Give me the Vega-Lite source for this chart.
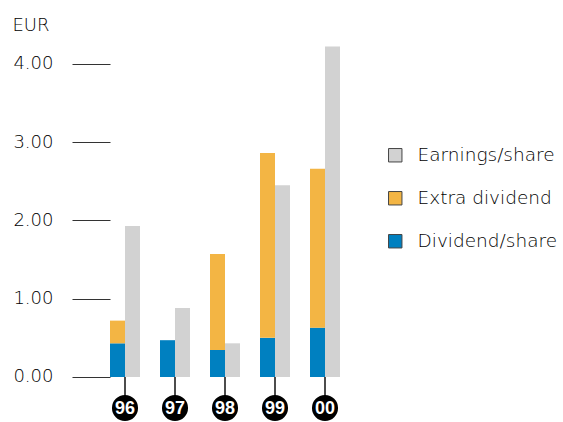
{
  "$schema": "https://vega.github.io/schema/vega-lite/v6.json",
  "autosize": "none",
  "width": 230,
  "height": 402,
  "padding": {"left": 110, "top": 20, "right": 223, "bottom": 0},
  "config": {"view": {"stroke": null}, "font": "DejaVu Sans"},
  "datasets": {
    "bars": [
      {"year": "96", "bar": "A", "series": "Dividend/share", "value": 0.43},
      {"year": "96", "bar": "A", "series": "Extra dividend", "value": 0.29},
      {"year": "96", "bar": "B", "series": "Earnings/share", "value": 1.93},
      {"year": "97", "bar": "A", "series": "Dividend/share", "value": 0.47},
      {"year": "97", "bar": "B", "series": "Earnings/share", "value": 0.88},
      {"year": "98", "bar": "A", "series": "Dividend/share", "value": 0.345},
      {"year": "98", "bar": "A", "series": "Extra dividend", "value": 1.225},
      {"year": "98", "bar": "B", "series": "Earnings/share", "value": 0.43},
      {"year": "99", "bar": "A", "series": "Dividend/share", "value": 0.5},
      {"year": "99", "bar": "A", "series": "Extra dividend", "value": 2.36},
      {"year": "99", "bar": "B", "series": "Earnings/share", "value": 2.45},
      {"year": "00", "bar": "A", "series": "Dividend/share", "value": 0.63},
      {"year": "00", "bar": "A", "series": "Extra dividend", "value": 2.03},
      {"year": "00", "bar": "B", "series": "Earnings/share", "value": 4.22}
    ],
    "years": [
      {"year": "96"}, {"year": "97"}, {"year": "98"}, {"year": "99"}, {"year": "00"}
    ]
  },
  "layer": [
    {
      "data": {"name": "bars"},
      "mark": {"type": "bar"},
      "encoding": {
        "x": {"field": "year", "type": "nominal", "sort": ["96", "97", "98", "99", "00"],
              "scale": {"paddingInner": 0.4, "paddingOuter": 0}, "axis": null},
        "xOffset": {"field": "bar", "type": "nominal", "scale": {"paddingInner": 0, "paddingOuter": 0}},
        "y": {"field": "value", "type": "quantitative", "stack": "zero",
              "scale": {"domain": [-0.575, 4.56], "nice": false, "zero": false},
              "axis": {"values": [0, 1, 2, 3, 4], "format": ".2f", "domain": false, "grid": false,
                       "tickSize": 38, "tickColor": "#333", "tickWidth": 1.2, "labelPadding": 19,
                       "labelFontSize": 18, "labelColor": "#000", "labelFont": "DejaVu Sans", "labelFontWeight": 300,
                       "title": "EUR", "titleAngle": 0, "titleAlign": "left", "titleBaseline": "alphabetic",
                       "titleX": -98, "titleY": 10, "titleFontSize": 18, "titleFontWeight": 300,
                       "titleColor": "#000", "titleFont": "DejaVu Sans"}},
        "color": {"field": "series", "type": "nominal",
                  "scale": {"domain": ["Earnings/share", "Extra dividend", "Dividend/share"],
                            "range": ["#d2d2d2", "#f3b544", "#0080c0"]},
                  "legend": {"title": null, "orient": "none", "legendX": 276, "legendY": 126,
                             "symbolType": "square", "symbolSize": 180, "symbolStrokeColor": "#444",
                             "symbolStrokeWidth": 1, "labelFontSize": 18.5, "labelColor": "#000",
                             "labelFont": "DejaVu Sans", "labelFontWeight": 300, "labelOffset": 13, "rowPadding": 24}},
        "order": {"field": "series", "sort": "ascending"}
      }
    },
    {
      "data": {"name": "years"},
      "mark": {"type": "rule", "color": "#111", "strokeWidth": 1.5},
      "encoding": {
        "x": {"field": "year", "type": "nominal", "sort": ["96", "97", "98", "99", "00"]},
        "y": {"datum": 0},
        "y2": {"datum": -0.25}
      }
    },
    {
      "data": {"name": "years"},
      "mark": {"type": "point", "shape": "circle", "filled": true, "color": "#000", "size": 680, "opacity": 1},
      "encoding": {
        "x": {"field": "year", "type": "nominal", "sort": ["96", "97", "98", "99", "00"]},
        "y": {"datum": -0.396}
      }
    },
    {
      "data": {"name": "years"},
      "mark": {"type": "text", "color": "#fff", "fontSize": 18, "fontWeight": "bold", "font": "Liberation Sans",
               "baseline": "middle", "align": "center", "dy": 1},
      "encoding": {
        "x": {"field": "year", "type": "nominal", "sort": ["96", "97", "98", "99", "00"]},
        "y": {"datum": -0.396},
        "text": {"field": "year"}
      }
    }
  ]
}
